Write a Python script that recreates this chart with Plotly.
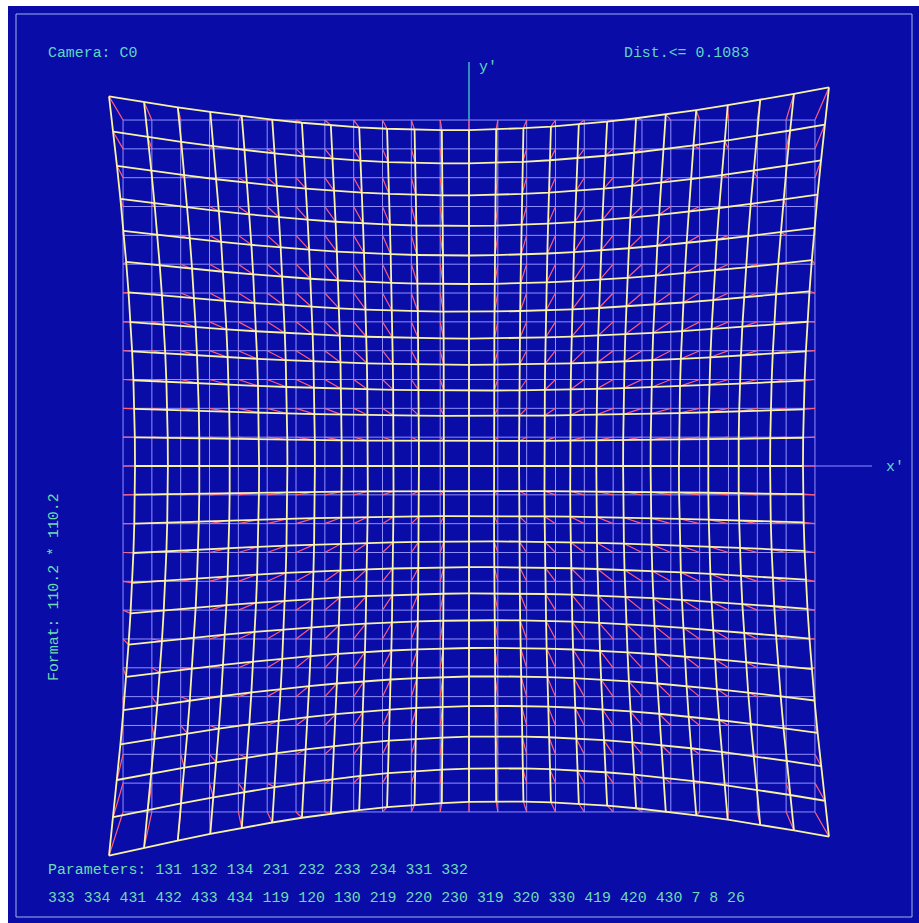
import numpy as np
import plotly.graph_objects as go

# Nominal grid node indices (in units of the grid pitch)
grid_ticks = list(range(-12, 13))

# Distortion model coefficients (image plane, units of grid pitch)
#   x' = x * (cx0 + cx1*x^2 + cx2*y^2)
#   y' = y * (cy0 + cy1*y^2 + cy2*x^2) + sk0*x*y^2 + sk1*x*y + sk2*x^2*y^2
coef_x = [0.866, 0.00069, 0.000522]
coef_y = [0.866, 0.00073, 0.000826]
coef_skew = [0.00014, -0.0006, -5.0e-6]

# Header / footer texts
camera_label = "Camera: C0"
dist_label = "Dist.<= 0.1083"
format_label = "Format: 110.2 * 110.2"
param_line1 = "Parameters: 131 132 134 231 232 233 234 331 332"
param_line2 = "333 334 431 432 433 434 119 120 130 219 220 230 319 320 330 419 420 430 7 8 26"

W, H = 919, 923
PITCH = 28.83          # pixels per grid unit
CX, CY = 469, 466      # principal point in page pixels

BG = "#0a0ca8"
REG_COL = "#9090ff"
DIST_COL = "#f8f3a6"
VEC_COL = "#ff5c7c"
TXT_COL = "#5fd6c6"
TXT_COL2 = "#6ddcb2"


def distort(x, y):
    xd = x * (coef_x[0] + coef_x[1] * x**2 + coef_x[2] * y**2)
    yd = (y * (coef_y[0] + coef_y[1] * y**2 + coef_y[2] * x**2)
          + coef_skew[0] * x * y**2 + coef_skew[1] * x * y
          + coef_skew[2] * x**2 * y**2)
    return xd, yd


g = np.array(grid_ticks, dtype=float)
lo, hi = g.min(), g.max()

# regular grid polylines
rx, ry = [], []
for v in g:
    rx += [lo, hi, None]; ry += [v, v, None]
    rx += [v, v, None]; ry += [lo, hi, None]

# distorted grid polylines (through every node)
dx, dy = [], []
for v in g:
    xs, ys = distort(g, np.full_like(g, v))
    dx += list(xs) + [None]; dy += list(ys) + [None]
    xs, ys = distort(np.full_like(g, v), g)
    dx += list(xs) + [None]; dy += list(ys) + [None]

# displacement vectors from nominal node to distorted node
vx, vy = [], []
for a in g:
    for b in g:
        xa, yb = distort(a, b)
        vx += [a, xa, None]; vy += [b, yb, None]

fig = go.Figure()
fig.add_trace(go.Scatter(x=rx, y=ry, mode="lines",
                         line=dict(color=REG_COL, width=1), hoverinfo="skip"))
fig.add_trace(go.Scatter(x=vx, y=vy, mode="lines",
                         line=dict(color=VEC_COL, width=1.2), hoverinfo="skip"))
fig.add_trace(go.Scatter(x=dx, y=dy, mode="lines",
                         line=dict(color=DIST_COL, width=1.8), hoverinfo="skip"))

# image coordinate axes
y_axis_top = (CY - 62) / PITCH
x_axis_end = (872 - CX) / PITCH
fig.add_trace(go.Scatter(x=[0, 0], y=[hi, y_axis_top], mode="lines",
                         line=dict(color="#3fb8c8", width=1.5), hoverinfo="skip"))
fig.add_trace(go.Scatter(x=[hi, x_axis_end], y=[0, 0], mode="lines",
                         line=dict(color=REG_COL, width=1), hoverinfo="skip"))


def px(xp):
    return xp / W


def py(yp):
    return 1 - yp / H


def font(color):
    return dict(family="Liberation Mono, DejaVu Sans Mono, monospace", size=14.9, color=color)


ann = [
    dict(x=px(46), y=py(53), text=camera_label, font=font(TXT_COL)),
    dict(x=px(622), y=py(53), text=dist_label, font=font(TXT_COL)),
    dict(x=px(46), y=py(870), text=param_line1, font=font(TXT_COL2)),
    dict(x=px(46), y=py(898), text=param_line2, font=font(TXT_COL2)),
    dict(x=px(477), y=py(67), text="y'", font=font(TXT_COL)),
    dict(x=px(884), y=py(467), text="x'", font=font(TXT_COL)),
]
annotations = [dict(a, xref="paper", yref="paper", xanchor="left", yanchor="middle",
                    showarrow=False) for a in ann]
annotations.append(dict(x=px(54), y=py(587), xref="paper", yref="paper",
                        xanchor="center", yanchor="middle", textangle=-90,
                        showarrow=False, text=format_label, font=font(TXT_COL2)))

shapes = [
    dict(type="rect", xref="paper", yref="paper", x0=px(8), x1=1.0, y0=0.0, y1=py(6),
         fillcolor=BG, line=dict(width=0), layer="below"),
    dict(type="rect", xref="paper", yref="paper", x0=px(16), x1=px(912), y0=py(917), y1=py(14),
         line=dict(color="#9fb2ee", width=1), layer="below"),
]

fig.update_layout(
    width=W, height=H, autosize=False,
    margin=dict(l=0, r=0, t=0, b=0, pad=0),
    paper_bgcolor="white", plot_bgcolor="rgba(0,0,0,0)",
    showlegend=False,
    xaxis=dict(range=[-CX / PITCH, (W - CX) / PITCH], visible=False, fixedrange=True),
    yaxis=dict(range=[(CY - H) / PITCH, CY / PITCH], visible=False, fixedrange=True),
    annotations=annotations, shapes=shapes,
)

fig.write_html("out.html")
